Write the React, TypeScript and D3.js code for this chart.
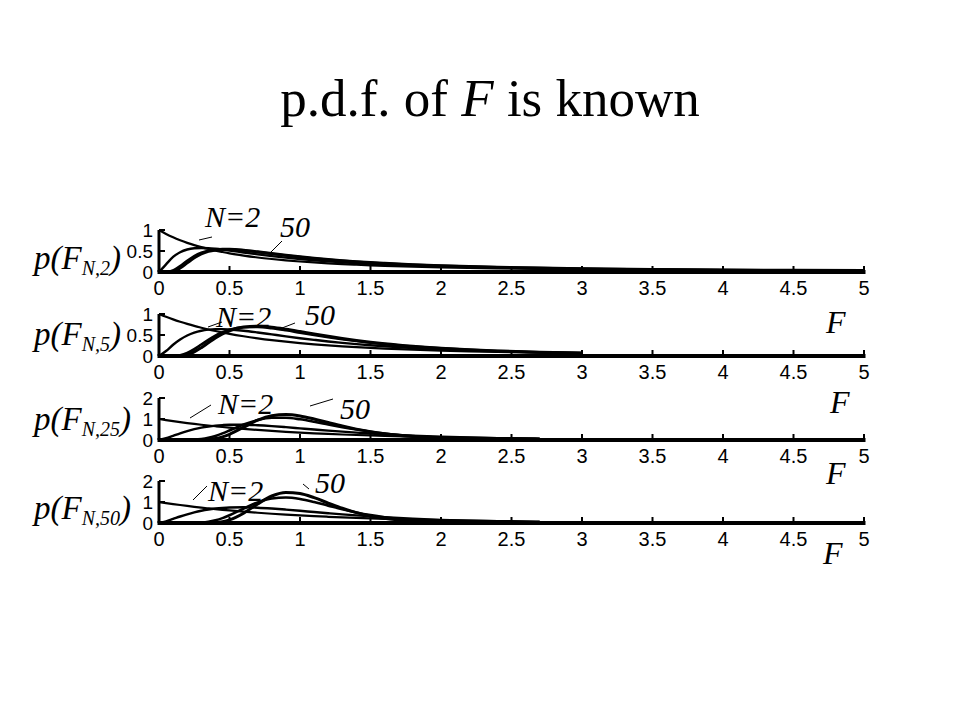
import React from "react";
import * as d3 from "d3";

// F values at which the densities were read
const F_GRID = [0, 0.05, 0.1, 0.15, 0.2, 0.25, 0.3, 0.35, 0.4, 0.45, 0.5, 0.6, 0.7, 0.8, 0.9, 1.0, 1.1, 1.2, 1.3, 1.4, 1.5, 1.6, 1.8, 2.0, 2.2, 2.4, 2.7, 3.0, 3.5, 4.0, 4.5, 5.0];

// p(F_{N,2})
const P_N2_M2 = [1.0, 0.907, 0.826, 0.756, 0.694, 0.64, 0.592, 0.549, 0.51, 0.476, 0.444, 0.391, 0.346, 0.309, 0.277, 0.25, 0.227, 0.207, 0.189, 0.174, 0.16, 0.148, 0.128, 0.111, 0.098, 0.087, 0.073, 0.063, 0.049, 0.04, 0.033, 0.028];
const P_N5_M2 = [0, 0.183, 0.358, 0.471, 0.535, 0.565, 0.573, 0.567, 0.552, 0.533, 0.511, 0.465, 0.42, 0.378, 0.341, 0.308, 0.279, 0.254, 0.231, 0.212, 0.194, 0.179, 0.153, 0.132, 0.115, 0.101, 0.085, 0.072, 0.056, 0.045, 0.037, 0.031];
const P_N25_M2 = [0, 0.001, 0.036, 0.139, 0.266, 0.377, 0.457, 0.507, 0.533, 0.542, 0.539, 0.513, 0.474, 0.432, 0.391, 0.354, 0.32, 0.291, 0.264, 0.241, 0.22, 0.202, 0.172, 0.147, 0.128, 0.112, 0.092, 0.078, 0.06, 0.048, 0.039, 0.032];
const P_N50_M2 = [0, 0, 0.016, 0.095, 0.218, 0.337, 0.429, 0.49, 0.524, 0.54, 0.541, 0.519, 0.481, 0.439, 0.399, 0.361, 0.327, 0.296, 0.269, 0.245, 0.224, 0.206, 0.174, 0.149, 0.129, 0.113, 0.094, 0.079, 0.061, 0.048, 0.039, 0.033];

// p(F_{N,5})
const P_N2_M5 = [1.0, 0.933, 0.872, 0.816, 0.764, 0.716, 0.673, 0.632, 0.595, 0.56, 0.528, 0.471, 0.421, 0.378, 0.341, 0.308, 0.279, 0.254, 0.231, 0.211, 0.193, 0.177, 0.15, 0.128, 0.11, 0.095, 0.077, 0.063, 0.047, 0.035, 0.027, 0.021];
const P_N5_M5 = [0, 0.119, 0.267, 0.392, 0.488, 0.556, 0.601, 0.627, 0.639, 0.64, 0.632, 0.602, 0.56, 0.514, 0.468, 0.424, 0.384, 0.346, 0.313, 0.283, 0.255, 0.231, 0.191, 0.158, 0.132, 0.111, 0.087, 0.069, 0.048, 0.035, 0.026, 0.02];
const P_N25_M5 = [0, 0, 0.002, 0.02, 0.073, 0.163, 0.273, 0.384, 0.484, 0.564, 0.623, 0.685, 0.689, 0.659, 0.611, 0.556, 0.501, 0.449, 0.4, 0.356, 0.317, 0.283, 0.226, 0.181, 0.147, 0.12, 0.091, 0.07, 0.046, 0.032, 0.023, 0.017];
const P_N50_M5 = [0, 0, 0, 0.005, 0.032, 0.098, 0.198, 0.314, 0.427, 0.525, 0.601, 0.689, 0.708, 0.685, 0.638, 0.582, 0.523, 0.468, 0.416, 0.369, 0.328, 0.291, 0.231, 0.185, 0.149, 0.122, 0.091, 0.069, 0.046, 0.032, 0.023, 0.017];

// p(F_{N,25})
const P_N2_M25 = [1.0, 0.948, 0.898, 0.851, 0.807, 0.765, 0.726, 0.689, 0.654, 0.62, 0.589, 0.531, 0.479, 0.433, 0.391, 0.354, 0.32, 0.29, 0.263, 0.239, 0.217, 0.197, 0.163, 0.135, 0.112, 0.093, 0.071, 0.055, 0.036, 0.024, 0.016, 0.011];
const P_N5_M25 = [0, 0.083, 0.201, 0.32, 0.426, 0.515, 0.588, 0.643, 0.684, 0.71, 0.726, 0.728, 0.703, 0.662, 0.611, 0.556, 0.501, 0.447, 0.397, 0.35, 0.308, 0.27, 0.206, 0.156, 0.118, 0.089, 0.059, 0.039, 0.02, 0.01, 0.005, 0.003];
const P_N25_M25 = [0, 0, 0, 0, 0.003, 0.015, 0.046, 0.104, 0.195, 0.315, 0.453, 0.735, 0.95, 1.057, 1.06, 0.987, 0.873, 0.742, 0.613, 0.496, 0.395, 0.311, 0.189, 0.113, 0.068, 0.04, 0.019, 0.009, 0.003, 0.001, 0, 0];
const P_N50_M25 = [0, 0, 0, 0, 0, 0.001, 0.006, 0.023, 0.067, 0.149, 0.273, 0.609, 0.943, 1.155, 1.212, 1.143, 1.001, 0.832, 0.666, 0.519, 0.397, 0.3, 0.167, 0.092, 0.051, 0.028, 0.012, 0.005, 0.001, 0, 0, 0];

// p(F_{N,50})
const P_N2_M50 = [1.0, 0.949, 0.901, 0.856, 0.813, 0.772, 0.733, 0.697, 0.662, 0.629, 0.598, 0.54, 0.488, 0.441, 0.399, 0.361, 0.326, 0.296, 0.268, 0.243, 0.22, 0.199, 0.164, 0.135, 0.112, 0.092, 0.069, 0.053, 0.033, 0.021, 0.014, 0.009];
const P_N5_M50 = [0, 0.078, 0.192, 0.309, 0.415, 0.507, 0.583, 0.643, 0.688, 0.72, 0.739, 0.749, 0.729, 0.689, 0.638, 0.582, 0.523, 0.466, 0.411, 0.361, 0.315, 0.273, 0.204, 0.15, 0.11, 0.08, 0.05, 0.031, 0.014, 0.006, 0.003, 0.001];
const P_N25_M50 = [0, 0, 0, 0, 0.001, 0.007, 0.024, 0.062, 0.131, 0.233, 0.368, 0.687, 0.983, 1.167, 1.213, 1.143, 1.0, 0.827, 0.655, 0.501, 0.374, 0.273, 0.139, 0.068, 0.033, 0.016, 0.005, 0.002, 0, 0, 0, 0];
const P_N50_M50 = [0, 0, 0, 0, 0, 0, 0.001, 0.005, 0.022, 0.064, 0.148, 0.466, 0.909, 1.286, 1.455, 1.403, 1.205, 0.95, 0.703, 0.496, 0.337, 0.223, 0.093, 0.037, 0.014, 0.006, 0.001, 0, 0, 0, 0, 0];

const PANEL_M = ["2", "5", "25", "50"];
const PANEL_SERIES = [
  [P_N2_M2, P_N5_M2, P_N25_M2, P_N50_M2],
  [P_N2_M5, P_N5_M5, P_N25_M5, P_N50_M5],
  [P_N2_M25, P_N5_M25, P_N25_M25, P_N50_M25],
  [P_N2_M50, P_N5_M50, P_N25_M50, P_N50_M50],
];
const PANEL_F_END = [5, 3, 2.7, 2.7];
const PANEL_Y_TICKS = [[0, 0.5, 1], [0, 0.5, 1], [0, 1, 2], [0, 1, 2]];
const X_TICKS = [0, 0.5, 1, 1.5, 2, 2.5, 3, 3.5, 4, 4.5, 5];

const SERIF = "'Liberation Serif', 'Times New Roman', serif";
const SANS = "'Liberation Sans', Arial, sans-serif";

// layout
const BASELINES = [272, 356, 440, 523];
const AX_H = 42;
const X0 = 159;
const X1 = 864;

// annotations: N=2 / 50 labels with leader lines
const ANN = [
  { n2: [205, 227], n50: [280, 237], l1: [199, 240, 212, 237], l2: [270, 253, 282, 241] },
  { n2: [216, 327], n50: [305, 325], l1: [208, 327, 222, 322], l2: [282, 328, 295, 323] },
  { n2: [218, 414], n50: [340, 419], l1: [190, 418, 211, 405], l2: [310, 406, 333, 399] },
  { n2: [208, 501], n50: [315, 493], l1: [193, 500, 207, 486], l2: [303, 484, 309, 489] },
];
const F_LABEL = [[826, 333], [830, 413], [826, 484], [823, 564]];
const P_LABEL_Y = [269, 345, 430, 519];

export default function App() {
  const x = d3.scaleLinear().domain([0, 5]).range([X0, X1]);
  const widths = [2.2, 2.4, 2.6, 3];
  return (
    <svg width={960} height={720} style={{ position: "absolute", left: 0, top: 0, background: "#fff" }}>
      <rect width={960} height={720} fill="#fff" />
      <text x={490} y={116} textAnchor="middle" fontFamily={SERIF} fontSize={53} fill="#000">
        p.d.f. of <tspan fontStyle="italic">F</tspan> is known
      </text>
      {PANEL_SERIES.map((series, pi) => {
        const yMax = PANEL_Y_TICKS[pi][2];
        const base = BASELINES[pi];
        const y = d3.scaleLinear().domain([0, yMax]).range([base, base - AX_H]);
        const line = d3
          .line<number>()
          .x((_, i) => x(F_GRID[i]))
          .y((v) => y(v))
          .defined((_, i) => F_GRID[i] <= PANEL_F_END[pi] + 1e-9)
          .curve(d3.curveMonotoneX);
        const a = ANN[pi];
        return (
          <g key={pi}>
            {series.map((s, si) => (
              <path key={si} d={line(s) || ""} fill="none" stroke="#000" strokeWidth={widths[si]} strokeLinejoin="round" />
            ))}
            {/* x axis */}
            <line x1={x(0) - 1.5} x2={x(5) + 1.5} y1={base} y2={base} stroke="#000" strokeWidth={4} />
            {X_TICKS.map((t) => (
              <g key={t}>
                <line x1={x(t)} x2={x(t)} y1={base} y2={base - 6} stroke="#000" strokeWidth={2} />
                <text x={x(t)} y={base + 23} textAnchor="middle" fontFamily={SANS} fontSize={20} fill="#000">
                  {String(t)}
                </text>
              </g>
            ))}
            {/* y axis */}
            <line x1={x(0)} x2={x(0)} y1={base} y2={y(yMax)} stroke="#000" strokeWidth={3} />
            {PANEL_Y_TICKS[pi].map((t) => (
              <g key={t}>
                <line x1={x(0)} x2={x(0) + 6} y1={y(t)} y2={y(t)} stroke="#000" strokeWidth={2} />
                <text x={153} y={y(t) + 7} textAnchor="end" fontFamily={SANS} fontSize={19} fill="#000">
                  {String(t)}
                </text>
              </g>
            ))}
            {/* y label */}
            <text x={34} y={P_LABEL_Y[pi]} fontFamily={SERIF} fontStyle="italic" fontSize={33} fill="#000">
              p(F<tspan fontSize={20} dy={6}>{"N," + PANEL_M[pi]}</tspan>
              <tspan dy={-6}>)</tspan>
            </text>
            {/* annotations */}
            <text x={a.n2[0]} y={a.n2[1]} fontFamily={SERIF} fontStyle="italic" fontSize={30} fill="#000">N=2</text>
            <text x={a.n50[0]} y={a.n50[1]} fontFamily={SERIF} fontStyle="italic" fontSize={30} fill="#000">50</text>
            <line x1={a.l1[0]} y1={a.l1[1]} x2={a.l1[2]} y2={a.l1[3]} stroke="#000" strokeWidth={1} />
            <line x1={a.l2[0]} y1={a.l2[1]} x2={a.l2[2]} y2={a.l2[3]} stroke="#000" strokeWidth={1} />
            {pi > 0 && (
              <text x={F_LABEL[pi - 1][0]} y={F_LABEL[pi - 1][1]} fontFamily={SERIF} fontStyle="italic" fontSize={32} fill="#000">F</text>
            )}
          </g>
        );
      })}
      <text x={F_LABEL[3][0]} y={F_LABEL[3][1]} fontFamily={SERIF} fontStyle="italic" fontSize={32} fill="#000">F</text>
    </svg>
  );
}
